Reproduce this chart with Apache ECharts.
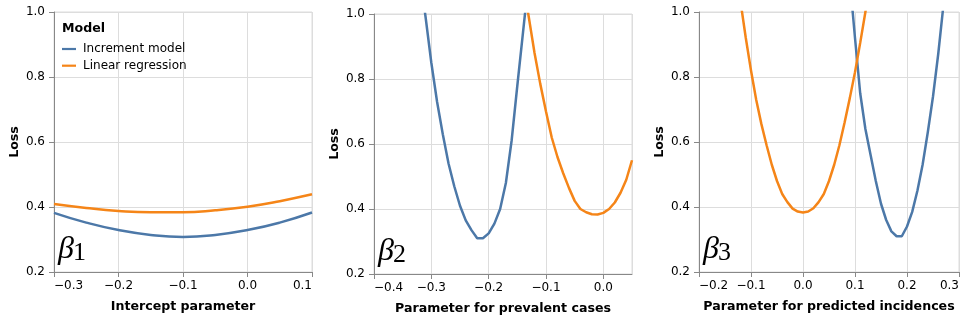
<!DOCTYPE html>
<html>
<head>
<meta charset="utf-8">
<script src="https://cdn.jsdelivr.net/npm/echarts@6/dist/echarts.min.js"></script>
<style>
  html, body { margin: 0; padding: 0; background: #fff; }
  #chart { width: 969px; height: 322px; }
</style>
</head>
<body>
<div id="chart"></div>
<script>
// values
const seriesNames = ["Increment model", "Linear regression"];
const colors = ["#4c78a8", "#f58518"];

// beta_1 : intercept
const p1X = [-0.3, -0.25, -0.2, -0.15, -0.1, -0.05, 0, 0.05, 0.1];
const p1Inc = [0.382, 0.352, 0.329, 0.314, 0.308, 0.314, 0.329, 0.352, 0.383];
const p1Lin = [0.409, 0.397, 0.388, 0.384, 0.384, 0.390, 0.401, 0.418, 0.439];

// beta_2 : prevalent cases
const p2IncX = [-0.32, -0.31, -0.30, -0.29, -0.28, -0.27, -0.26, -0.25, -0.24, -0.23,
                -0.22, -0.21, -0.20, -0.19, -0.18, -0.17, -0.16, -0.15, -0.14, -0.13];
const p2Inc = [1.12, 0.99, 0.85, 0.73, 0.63, 0.54, 0.47, 0.41, 0.365, 0.335,
               0.31, 0.31, 0.325, 0.355, 0.40, 0.48, 0.61, 0.78, 0.945, 1.11];
const p2LinX = [-0.14, -0.13, -0.12, -0.11, -0.10, -0.09, -0.08, -0.07, -0.06, -0.05,
                -0.04, -0.03, -0.02, -0.01, 0.00, 0.01, 0.02, 0.03, 0.04, 0.05];
const p2Lin = [1.10, 0.99, 0.88, 0.785, 0.70, 0.62, 0.56, 0.51, 0.465, 0.425,
               0.40, 0.39, 0.384, 0.383, 0.388, 0.40, 0.42, 0.45, 0.49, 0.55];

// beta_3 : predicted incidences
const p3LinX = [-0.13, -0.12, -0.11, -0.10, -0.09, -0.08, -0.07, -0.06, -0.05, -0.04,
                -0.03, -0.02, -0.01, 0.00, 0.01, 0.02, 0.03, 0.04, 0.05, 0.06,
                0.07, 0.08, 0.09, 0.10, 0.11, 0.12, 0.13];
const p3Lin = [1.15, 1.03, 0.92, 0.82, 0.73, 0.655, 0.59, 0.53, 0.48, 0.44,
               0.415, 0.395, 0.386, 0.383, 0.386, 0.396, 0.415, 0.44, 0.48, 0.53,
               0.59, 0.66, 0.735, 0.815, 0.905, 1.0, 1.10];
const p3IncX = [0.08, 0.09, 0.10, 0.11, 0.12, 0.13, 0.14, 0.15, 0.16, 0.17,
                0.18, 0.19, 0.20, 0.21, 0.22, 0.23, 0.24, 0.25, 0.26, 0.27, 0.28];
const p3Inc = [1.28, 1.10, 0.92, 0.75, 0.64, 0.56, 0.48, 0.41, 0.36, 0.325,
               0.31, 0.31, 0.34, 0.385, 0.45, 0.53, 0.63, 0.74, 0.87, 1.02, 1.18];

const xTitles = ["Intercept parameter", "Parameter for prevalent cases", "Parameter for predicted incidences"];
const xRanges = [[-0.3, 0.1], [-0.4, 0.05], [-0.2, 0.3]];
const yTicks = [0.2, 0.4, 0.6, 0.8, 1.0];
const betaSubs = ["1", "2", "3"];

const FONT = "DejaVu Sans";
const axisGrey = "#888";
const gridGrey = "#ddd";

const pairs = (xs, ys) => xs.map((x, i) => [x, ys[i]]);
const fmt = v => {
  const s = Math.abs(v).toFixed(1);
  return (v < -1e-9 ? "\u2212" : "") + s;
};

const grids = [
  { left: 54, top: 12, width: 258, height: 260 },
  { left: 374, top: 14, width: 258, height: 260 },
  { left: 699, top: 12, width: 260, height: 260 },
].map(g => Object.assign(g, { show: true, borderColor: gridGrey, borderWidth: 1, containLabel: false }));

const xAxes = xRanges.map((r, i) => ({
  type: "value",
  gridIndex: i,
  min: r[0], max: r[1], interval: 0.1,
  name: xTitles[i],
  nameLocation: "middle",
  nameGap: 28,
  nameTextStyle: { fontFamily: FONT, fontWeight: "bold", fontSize: 12.6, color: "#000" },
  axisLine: { show: true, onZero: false, lineStyle: { color: axisGrey, width: 1 } },
  axisTick: { show: true, length: 5, lineStyle: { color: axisGrey } },
  axisLabel: {
    fontFamily: FONT, fontSize: 12, color: "#000", margin: 8,
    formatter: fmt,
    alignMinLabel: "left", alignMaxLabel: "right",
    showMaxLabel: i !== 1,
  },
  splitLine: { show: true, lineStyle: { color: gridGrey, width: 1 } },
}));

const yAxes = [0, 1, 2].map(i => ({
  type: "value",
  gridIndex: i,
  min: yTicks[0], max: yTicks[yTicks.length - 1], interval: 0.2,
  name: "Loss",
  nameLocation: "middle",
  nameGap: 33,
  nameTextStyle: { fontFamily: FONT, fontWeight: "bold", fontSize: 12.6, color: "#000" },
  axisLine: { show: true, onZero: false, lineStyle: { color: axisGrey, width: 1 } },
  axisTick: { show: true, length: 5, lineStyle: { color: axisGrey } },
  axisLabel: { fontFamily: FONT, fontSize: 12, color: "#000", margin: 9, formatter: v => v.toFixed(1) },
  splitLine: { show: true, lineStyle: { color: gridGrey, width: 1 } },
}));

const panelData = [
  [pairs(p1X, p1Inc), pairs(p1X, p1Lin)],
  [pairs(p2IncX, p2Inc), pairs(p2LinX, p2Lin)],
  [pairs(p3IncX, p3Inc), pairs(p3LinX, p3Lin)],
];

const series = [];
panelData.forEach((pd, i) => {
  pd.forEach((d, k) => {
    series.push({
      name: seriesNames[k],
      type: "line",
      xAxisIndex: i,
      yAxisIndex: i,
      data: d,
      symbol: "none",
      smooth: i === 0,
      clip: true,
      lineStyle: { color: colors[k], width: 2.5 },
      itemStyle: { color: colors[k] },
    });
  });
});

// beta labels in the lower left corner of each panel
const betaGraphics = [];
grids.forEach((g, i) => {
  const bottom = g.top + g.height;
  betaGraphics.push({
    type: "text", left: g.left + 4, top: bottom - 38, z: 10,
    style: { text: "\u03b2", font: "italic 32px 'Liberation Serif'", fill: "#000" },
  });
  betaGraphics.push({
    type: "text", left: g.left + 19, top: bottom - 32, z: 10,
    style: { text: betaSubs[i], font: "26px 'Liberation Serif'", fill: "#000" },
  });
});

const chart = echarts.init(document.getElementById("chart"), null, { renderer: "canvas" });
chart.setOption({
  animation: false,
  backgroundColor: "#fff",
  title: {
    text: "Model",
    left: 62, top: 22, padding: 0,
    textStyle: { fontFamily: FONT, fontWeight: "bold", fontSize: 12.6, color: "#000" },
  },
  legend: {
    data: seriesNames,
    orient: "vertical",
    left: 62, top: 42,
    padding: 0,
    icon: "rect",
    itemWidth: 14, itemHeight: 2.2, itemGap: 2.7,
    textStyle: { fontFamily: FONT, fontSize: 12, color: "#000", lineHeight: 14, padding: [0, 0, 0, 2] },
  },
  grid: grids,
  xAxis: xAxes,
  yAxis: yAxes,
  graphic: betaGraphics,
  series,
});
</script>
</body>
</html>
